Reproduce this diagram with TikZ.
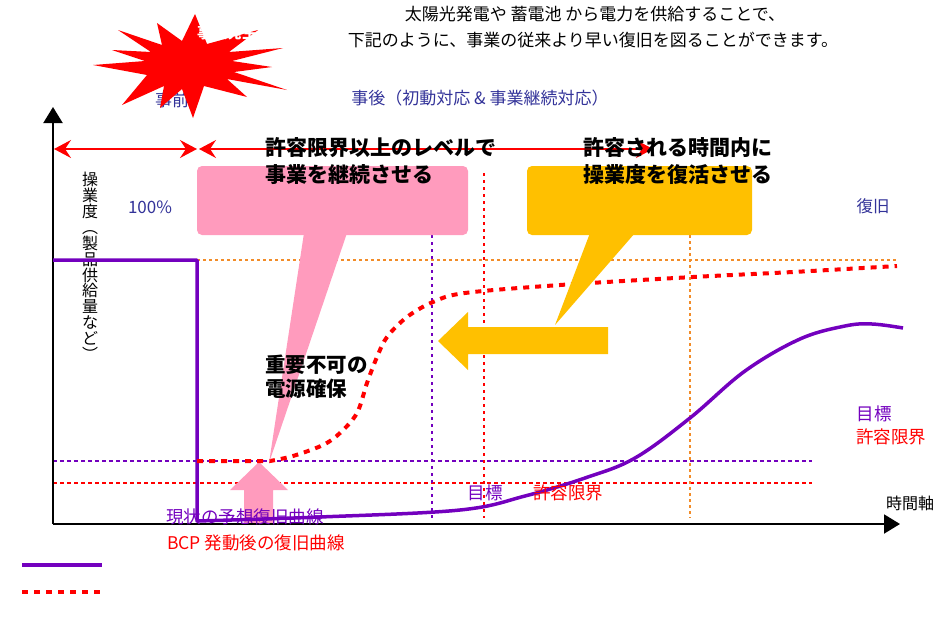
\documentclass[tikz,border=0pt]{standalone}
\usepackage{fontspec}
\newfontfamily\jp{Noto Sans CJK JP}
\usetikzlibrary{arrows.meta}
\definecolor{cpurple}{RGB}{115,0,190}
\definecolor{cnavy}{RGB}{51,51,153}
\definecolor{cpink}{RGB}{255,155,189}
\definecolor{corange}{RGB}{255,192,0}
\definecolor{cdot}{RGB}{242,140,40}
\tikzset{
  txt/.style={font=\jp\fontsize{17}{18}\selectfont, inner sep=0pt},
  lbl/.style={font=\jp\fontsize{17.5}{19}\selectfont, inner sep=0pt},
  big/.style={font=\jp\bfseries\fontsize{21}{27}\selectfont, inner sep=0pt, align=left},
  axis/.style={line width=2pt, -{Triangle[length=16pt,width=19pt]}},
  redarrow/.style={red, line width=1.5pt, {Stealth[length=17pt,width=18pt,inset=6pt]}-{Stealth[length=17pt,width=18pt,inset=6pt]}},
  purpleline/.style={cpurple, line width=3.5pt, line join=round},
  bcpline/.style={red, line width=4pt, dash pattern=on 6pt off 6pt},
  odot/.style={cdot, line width=1.6pt, dash pattern=on 3pt off 3pt},
  pdot/.style={cpurple, line width=1.8pt, dash pattern=on 3pt off 4pt},
  rdot/.style={red, line width=1.8pt, dash pattern=on 3pt off 4pt},
  pthin/.style={cpurple, line width=1.1pt, dash pattern=on 4pt off 3pt},
  rthin/.style={red, line width=1.1pt, dash pattern=on 4pt off 3pt},
}
\begin{document}
\begin{tikzpicture}[x=1pt,y=-1pt]
\useasboundingbox (0,0) rectangle (935,627);

% header texts
\node[txt] (t1) at (595,14) {太陽光発電や 蓄電池 から電力を供給することで、};
\node[txt] (t2) at (593,40) {下記のように、事業の従来より早い復旧を図ることができます。};
\node[txt, cnavy] (post) at (480,98) {事後（初動対応 \& 事業継続対応）};
\node[txt, cnavy] (pre) at (172,100) {事前};

% starburst
\fill[red] (195,14) -- (207,44) -- (258,30) -- (229,52) -- (283,48) -- (232,61)
  -- (272,67) -- (234,72) -- (287,90) -- (227,79) -- (247,97) -- (204,86)
  -- (193,118) -- (182,89) -- (160,108) -- (164,86) -- (122,105) -- (147,75)
  -- (93,65) -- (145,61) -- (112,50) -- (151,52) -- (118,30) -- (162,45)
  -- (157,23) -- (182,41) -- cycle;
\node[txt, white, font=\jp\bfseries\fontsize{15}{16}\selectfont] (ev) at (227,33) {事故発生};

% guide lines
\draw[odot] (197,260) -- (897,260);
\draw[pthin] (53,461) -- (812,461);
\draw[rthin] (53,483) -- (812,483);
\draw[pdot] (432,235) -- (432,520);
\draw[rdot] (484,173) -- (484,518);
\draw[odot] (690,235) -- (690,518);

% pink up arrow
\fill[cpink] (244,524) -- (244,490) -- (230,490) -- (259,462) -- (288,490) -- (273,490) -- (273,524) -- cycle;

% axes
\coordinate (O) at (53,524);
\coordinate (Ytop) at (53,107);
\coordinate (Xend) at (900,524);
\draw[axis] (O) -- (Ytop);
\draw[axis] (O) -- (Xend);
\node[txt, font=\jp\fontsize{16}{18}\selectfont] (tx) at (910,503) {時間軸};

% vertical label
\node[txt, align=center, font=\jp\fontsize{16}{15.9}\selectfont, anchor=north] (yl) at (90,172)
  {操\\業\\度\\︵\\製\\品\\供\\給\\量\\な\\ど\\︶};
\node[txt, cnavy] (p100) at (150,207) {100\%};
\node[txt, cnavy, font=\jp\fontsize{16.5}{18}\selectfont] (fk) at (873,206) {復旧};

% red period arrows
\coordinate (a0) at (54,149);
\coordinate (a1) at (197,149);
\coordinate (a2) at (199,149);
\coordinate (a3) at (653,149);
\draw[redarrow] (a0) -- (a1);
\draw[redarrow] (a2) -- (a3);

% curves
\draw[purpleline] (53,260) -- (197,260) -- (197,521) -- plot[smooth, tension=0.6] coordinates {
  (197,521) (320,517) (460,510) (525,496) (585,478) (635,458)
  (690,418) (745,371) (800,339) (845,326) (872,324) (903,328)};
\draw[bcpline] (197,461) -- (270,461) -- plot[smooth, tension=0.55] coordinates {
  (270,461) (293,456) (323,445) (340,433) (357,413) (367,383) (377,357) (387,337)
  (407,317) (433,302) (465,293) (560,285) (693,277) (793,272) (897,266)};

% pink callout
\fill[cpink, rounded corners=5pt] (197,166) rectangle (468,235);
\fill[cpink] (304,233) -- (347,233) -- (269,463) -- cycle;
% orange callout
\fill[corange, rounded corners=5pt] (527,166) rectangle (752,235);
\fill[corange] (590,233) -- (635,233) -- (555,325) -- cycle;
% orange left arrow
\fill[corange] (608,327) -- (468,327) -- (468,312) -- (438,341) -- (468,370) -- (468,354) -- (608,354) -- cycle;

% callout texts
\node[big, anchor=west] (c1) at (265,161.5) {許容限界以上のレベルで\\事業を継続させる};
\node[big, anchor=west] (c2) at (583,161.5) {許容される時間内に\\操業度を復活させる};
\node[big, anchor=west, font=\jp\bfseries\fontsize{20.5}{24}\selectfont] (c3) at (265,376.5) {重要不可の\\電源確保};

% labels
\node[lbl, cpurple] (g1) at (485,493) {目標};
\node[lbl, red] (l1) at (568,493) {許容限界};
\node[lbl, cpurple] (g2) at (874,414) {目標};
\node[lbl, red] (l2) at (891,437) {許容限界};
\node[lbl, cpurple] (cur) at (245,517) {現状の予想復旧曲線};
\node[lbl, red] (bcp) at (256,543) {BCP 発動後の復旧曲線};

% legend
\coordinate (lg1a) at (22,565);
\coordinate (lg1b) at (102,565);
\coordinate (lg2a) at (22,592);
\coordinate (lg2b) at (100,592);
\draw[cpurple, line width=4pt] (lg1a) -- (lg1b);
\draw[bcpline] (lg2a) -- (lg2b);
\end{tikzpicture}
\end{document}
